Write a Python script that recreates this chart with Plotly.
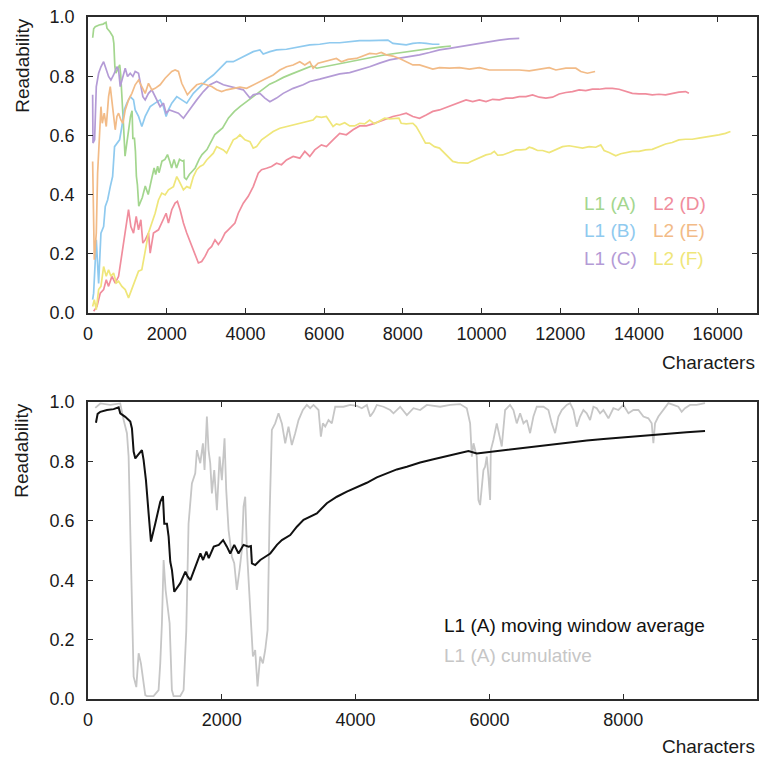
import plotly.graph_objects as go
from plotly.subplots import make_subplots

# ---------------- data (characters, readability) ----------------
l1a = [(119,0.93),(144,0.96),(184,0.967),(283,0.973),(383,0.976),(458,0.982),(482,0.962),(557,0.95),(632,0.934),(657,0.911),(682,0.833),(707,0.81),(742,0.82),(771,0.827),(806,0.838),(831,0.805),(866,0.737),(906,0.625),(941,0.53),(1005,0.59),(1080,0.664),(1120,0.683),(1140,0.59),(1180,0.59),(1205,0.547),(1230,0.462),(1255,0.434),(1290,0.361),(1330,0.373),(1380,0.39),(1455,0.429),(1490,0.412),(1530,0.40),(1605,0.446),(1680,0.49),(1720,0.468),(1770,0.496),(1805,0.474),(1880,0.513),(1955,0.519),(2020,0.535),(2076,0.513),(2126,0.49),(2186,0.519),(2250,0.49),(2325,0.519),(2400,0.513),(2435,0.515),(2450,0.457),(2500,0.451),(2575,0.468),(2650,0.479),(2724,0.49),(2824,0.519),(2898,0.535),(3023,0.552),(3122,0.58),(3222,0.603),(3322,0.614),(3421,0.625),(3570,0.659),(3720,0.681),(3869,0.698),(4018,0.713),(4168,0.728),(4317,0.746),(4467,0.76),(4616,0.773),(4766,0.782),(4965,0.796),(5164,0.807),(5363,0.818),(5563,0.829),(5687,0.835),(5812,0.827),(5961,0.831),(6160,0.835),(6360,0.841),(6559,0.847),(6758,0.852),(6957,0.857),(7207,0.863),(7456,0.87),(7705,0.875),(7954,0.88),(8203,0.883),(8452,0.889),(8701,0.894),(8948,0.898),(9223,0.902)]

l1b = [(118,0.045),(143,0.067),(211,0.247),(270,0.10),(329,0.27),(397,0.292),(439,0.36),(498,0.382),(566,0.427),(625,0.461),(675,0.562),(735,0.574),(802,0.585),(861,0.63),(920,0.686),(988,0.709),(1073,0.731),(1157,0.72),(1199,0.686),(1284,0.664),(1368,0.63),(1453,0.664),(1580,0.697),(1706,0.709),(1833,0.72),(1918,0.697),(1985,0.664),(2044,0.686),(2129,0.709),(2256,0.731),(2382,0.72),(2509,0.709),(2678,0.742),(2847,0.765),(3016,0.787),(3185,0.804),(3354,0.827),(3523,0.849),(3692,0.849),(3861,0.86),(4030,0.872),(4199,0.883),(4368,0.889),(4453,0.875),(4622,0.883),(4791,0.889),(5044,0.891),(5298,0.898),(5636,0.906),(5889,0.908),(6143,0.913),(6396,0.913),(6650,0.917),(6903,0.92),(7157,0.92),(7410,0.92),(7621,0.922),(7748,0.911),(7917,0.908),(8086,0.906),(8255,0.911),(8424,0.913),(8593,0.911),(8762,0.908),(8931,0.908)]

l1c = [(118,0.737),(126,0.574),(168,0.585),(211,0.765),(270,0.81),(329,0.832),(397,0.849),(464,0.821),(523,0.799),(582,0.787),(650,0.804),(735,0.832),(777,0.821),(819,0.765),(887,0.799),(946,0.827),(1005,0.799),(1073,0.81),(1140,0.799),(1199,0.816),(1284,0.81),(1326,0.782),(1394,0.731),(1453,0.72),(1537,0.742),(1622,0.754),(1706,0.731),(1833,0.697),(1918,0.709),(1985,0.675),(2070,0.686),(2171,0.681),(2298,0.675),(2425,0.658),(2509,0.675),(2636,0.697),(2763,0.72),(2932,0.748),(3101,0.771),(3270,0.782),(3439,0.771),(3608,0.765),(3777,0.759),(3946,0.754),(4115,0.726),(4199,0.737),(4368,0.742),(4495,0.726),(4622,0.714),(4791,0.726),(4960,0.742),(5213,0.759),(5467,0.771),(5636,0.782),(5889,0.79),(6143,0.799),(6396,0.808),(6650,0.812),(6903,0.821),(7157,0.832),(7410,0.844),(7664,0.855),(7917,0.861),(8171,0.866),(8424,0.872),(8678,0.88),(8931,0.889),(9185,0.894),(9438,0.9),(9692,0.906),(9945,0.911),(10199,0.917),(10452,0.922),(10706,0.926),(10959,0.928)]

l2d = [(143,0.006),(228,0.022),(312,0.067),(397,0.079),(464,0.112),(523,0.09),(608,0.124),(692,0.101),(777,0.124),(861,0.202),(946,0.27),(1030,0.349),(1089,0.292),(1157,0.27),(1225,0.326),(1284,0.281),(1343,0.315),(1394,0.236),(1453,0.247),(1537,0.27),(1580,0.202),(1664,0.27),(1791,0.281),(1901,0.315),(1985,0.337),(2044,0.304),(2129,0.349),(2213,0.371),(2272,0.377),(2340,0.349),(2425,0.304),(2509,0.27),(2636,0.225),(2720,0.202),(2805,0.169),(2889,0.174),(2974,0.191),(3058,0.214),(3143,0.225),(3227,0.247),(3312,0.231),(3396,0.247),(3481,0.27),(3565,0.281),(3650,0.292),(3734,0.304),(3819,0.337),(3946,0.371),(4072,0.394),(4199,0.427),(4326,0.472),(4410,0.484),(4537,0.489),(4664,0.495),(4791,0.506),(4917,0.501),(5044,0.517),(5213,0.529),(5382,0.523),(5509,0.546),(5636,0.529),(5762,0.551),(5931,0.568),(6058,0.562),(6227,0.585),(6396,0.607),(6565,0.602),(6734,0.619),(6903,0.632),(7072,0.632),(7241,0.639),(7410,0.647),(7579,0.655),(7748,0.664),(7917,0.669),(8086,0.675),(8255,0.664),(8424,0.658),(8593,0.669),(8762,0.681),(8931,0.686),(9100,0.695),(9269,0.703),(9438,0.711),(9607,0.72),(9776,0.714),(9945,0.72),(10114,0.714),(10283,0.722),(10452,0.72),(10621,0.726),(10790,0.726),(10959,0.731),(11128,0.731),(11297,0.737),(11466,0.729),(11635,0.726),(11804,0.729),(11973,0.74),(12142,0.745),(12311,0.748),(12480,0.754),(12649,0.751),(12818,0.756),(12987,0.756),(13156,0.759),(13325,0.759),(13494,0.756),(13663,0.748),(13832,0.742),(14001,0.74),(14170,0.74),(14339,0.737),(14508,0.739),(14677,0.737),(14846,0.742),(15015,0.746),(15184,0.748),(15269,0.742)]

l2e = [(118,0.512),(160,0.18),(211,0.27),(244,0.472),(295,0.607),(329,0.697),(363,0.641),(413,0.675),(464,0.63),(523,0.731),(566,0.765),(608,0.72),(650,0.664),(692,0.619),(735,0.664),(777,0.675),(836,0.652),(887,0.641),(946,0.686),(1030,0.72),(1115,0.742),(1199,0.771),(1284,0.787),(1368,0.765),(1453,0.742),(1537,0.776),(1622,0.754),(1706,0.759),(1833,0.771),(1960,0.793),(2044,0.804),(2129,0.816),(2213,0.821),(2298,0.816),(2382,0.776),(2467,0.754),(2526,0.737),(2636,0.754),(2763,0.771),(2889,0.776),(3016,0.771),(3143,0.765),(3270,0.754),(3396,0.748),(3523,0.754),(3692,0.759),(3861,0.763),(4030,0.759),(4199,0.771),(4368,0.782),(4537,0.793),(4706,0.804),(4875,0.821),(5044,0.832),(5213,0.838),(5382,0.849),(5509,0.838),(5636,0.849),(5720,0.827),(5847,0.844),(6016,0.849),(6143,0.855),(6312,0.86),(6438,0.849),(6607,0.857),(6819,0.86),(6988,0.868),(7157,0.877),(7326,0.875),(7452,0.88),(7579,0.872),(7748,0.868),(7917,0.86),(8086,0.849),(8255,0.838),(8424,0.838),(8593,0.832),(8762,0.824),(8931,0.829),(9185,0.827),(9438,0.829),(9692,0.824),(9945,0.829),(10199,0.821),(10452,0.821),(10706,0.821),(10959,0.821),(11213,0.818),(11466,0.823),(11720,0.829),(11889,0.821),(12142,0.827),(12396,0.827),(12522,0.816),(12691,0.81),(12886,0.816)]

l2f = [(118,0.022),(160,0.045),(211,0.011),(270,0.079),(329,0.09),(397,0.157),(464,0.124),(523,0.146),(582,0.124),(650,0.135),(718,0.101),(777,0.107),(861,0.09),(946,0.079),(1030,0.051),(1115,0.079),(1199,0.112),(1284,0.141),(1368,0.146),(1453,0.214),(1537,0.27),(1622,0.304),(1706,0.337),(1791,0.382),(1875,0.405),(1960,0.399),(2044,0.416),(2171,0.427),(2256,0.461),(2323,0.444),(2425,0.416),(2509,0.427),(2594,0.422),(2678,0.461),(2763,0.484),(2847,0.495),(2932,0.501),(3016,0.517),(3101,0.529),(3185,0.54),(3270,0.562),(3354,0.557),(3439,0.551),(3523,0.54),(3608,0.562),(3692,0.585),(3777,0.591),(3861,0.602),(3988,0.585),(4115,0.579),(4199,0.557),(4284,0.562),(4410,0.585),(4537,0.596),(4706,0.613),(4875,0.624),(5044,0.63),(5213,0.636),(5382,0.641),(5551,0.647),(5720,0.652),(5805,0.664),(5931,0.661),(6058,0.664),(6143,0.647),(6227,0.63),(6312,0.639),(6396,0.636),(6523,0.643),(6650,0.632),(6776,0.632),(6903,0.641),(7030,0.639),(7157,0.652),(7283,0.639),(7410,0.65),(7537,0.658),(7664,0.656),(7790,0.658),(7900,0.658),(7959,0.641),(8086,0.639),(8255,0.641),(8340,0.63),(8441,0.607),(8525,0.585),(8576,0.574),(8678,0.574),(8804,0.562),(8931,0.557),(9058,0.54),(9142,0.529),(9269,0.512),(9396,0.508),(9523,0.508),(9649,0.506),(9734,0.512),(9861,0.52),(9987,0.526),(10114,0.534),(10241,0.538),(10325,0.546),(10410,0.533),(10537,0.534),(10706,0.542),(10875,0.551),(11001,0.551),(11128,0.553),(11213,0.56),(11297,0.557),(11424,0.549),(11551,0.549),(11720,0.542),(11889,0.553),(12058,0.562),(12227,0.565),(12396,0.56),(12565,0.557),(12734,0.562),(12903,0.56),(13029,0.568),(13114,0.549),(13241,0.542),(13410,0.531),(13536,0.538),(13663,0.542),(13832,0.546),(14001,0.546),(14170,0.551),(14339,0.553),(14508,0.562),(14677,0.571),(14846,0.576),(15015,0.585),(15184,0.587),(15353,0.587),(15522,0.591),(15691,0.594),(15860,0.598),(16029,0.602),(16198,0.607),(16325,0.613)]

l1a_window = [(109,0.98),(184,0.995),(333,0.99),(482,0.995),(532,0.94),(582,0.895),(607,0.816),(632,0.57),(657,0.255),(682,0.075),(722,0.04),(757,0.154),(791,0.12),(821,0.075),(856,0.013),(881,0.01),(980,0.01),(1055,0.03),(1080,0.12),(1105,0.255),(1130,0.468),(1160,0.367),(1190,0.31),(1220,0.255),(1254,0.03),(1279,0.01),(1379,0.01),(1429,0.03),(1469,0.23),(1503,0.59),(1553,0.726),(1603,0.76),(1628,0.838),(1678,0.794),(1718,0.861),(1742,0.771),(1777,0.951),(1802,0.838),(1827,0.794),(1852,0.692),(1887,0.771),(1927,0.636),(1967,0.816),(2001,0.737),(2041,0.878),(2066,0.704),(2101,0.569),(2151,0.479),(2186,0.457),(2225,0.367),(2265,0.434),(2300,0.502),(2325,0.648),(2350,0.681),(2375,0.502),(2400,0.389),(2435,0.232),(2465,0.143),(2499,0.165),(2534,0.042),(2574,0.143),(2614,0.12),(2649,0.165),(2684,0.232),(2714,0.614),(2733,0.782),(2748,0.906),(2798,0.928),(2848,0.962),(2898,0.928),(2948,0.861),(2997,0.917),(3047,0.855),(3097,0.895),(3147,0.939),(3212,0.973),(3271,0.99),(3321,0.979),(3371,0.99),(3446,0.973),(3481,0.883),(3511,0.928),(3546,0.917),(3595,0.939),(3645,0.928),(3695,0.984),(3819,0.984),(3919,0.99),(4019,0.987),(4093,0.979),(4168,0.99),(4218,0.951),(4268,0.967),(4317,0.99),(4417,0.984),(4517,0.973),(4566,0.962),(4666,0.984),(4766,0.956),(4865,0.979),(4965,0.973),(5064,0.99),(5264,0.984),(5413,0.99),(5562,0.993),(5662,0.979),(5712,0.928),(5737,0.816),(5762,0.861),(5811,0.816),(5836,0.67),(5861,0.653),(5886,0.704),(5911,0.771),(5936,0.782),(5961,0.816),(5986,0.749),(6011,0.67),(6021,0.838),(6060,0.872),(6110,0.928),(6160,0.883),(6185,0.85),(6235,0.973),(6309,0.99),(6359,0.973),(6409,0.928),(6459,0.962),(6509,0.928),(6559,0.939),(6608,0.895),(6658,0.951),(6708,0.984),(6808,0.984),(6882,0.973),(6932,0.928),(6982,0.895),(7032,0.951),(7082,0.973),(7156,0.99),(7206,0.996),(7256,0.973),(7306,0.917),(7355,0.951),(7405,0.973),(7455,0.962),(7505,0.939),(7555,0.984),(7604,0.979),(7654,0.962),(7704,0.973),(7779,0.945),(7853,0.979),(7928,0.973),(8003,0.99),(8078,0.962),(8152,0.973),(8227,0.973),(8302,0.951),(8376,0.945),(8426,0.928),(8451,0.861),(8476,0.928),(8526,0.951),(8600,0.973),(8675,0.996),(8750,0.99),(8824,0.984),(8874,0.967),(8924,0.979),(8999,0.99),(9098,0.99),(9223,0.996)]

top_names = ["L1 (A)", "L1 (B)", "L1 (C)", "L2 (D)", "L2 (E)", "L2 (F)"]
top_series = [l1a, l1b, l1c, l2d, l2e, l2f]
top_colors = ["#a3d68e", "#8fcaef", "#b49bd6", "#f08d9d", "#f2bb87", "#efe67a"]

bottom_names = ["L1 (A) moving window average", "L1 (A) cumulative"]
bottom_colors = ["#111111", "#c6c6c6"]

top_x_ticks = [0, 2000, 4000, 6000, 8000, 10000, 12000, 14000, 16000]
bottom_x_ticks = [0, 2000, 4000, 6000, 8000]
y_ticks = [0.0, 0.2, 0.4, 0.6, 0.8, 1.0]

FONT = "Liberation Sans, Arial, Helvetica, sans-serif"

fig = make_subplots(rows=2, cols=1, vertical_spacing=0.1305)

def xs(s): return [p[0] for p in s]
def ys(s): return [p[1] for p in s]

for name, s, c in zip(top_names, top_series, top_colors):
    fig.add_trace(go.Scatter(x=xs(s), y=ys(s), mode="lines", name=name,
                             line=dict(color=c, width=1.7), showlegend=False), row=1, col=1)

fig.add_trace(go.Scatter(x=xs(l1a_window), y=ys(l1a_window), mode="lines", name=bottom_names[1],
                         line=dict(color=bottom_colors[1], width=1.8), showlegend=False), row=2, col=1)
fig.add_trace(go.Scatter(x=xs(l1a), y=ys(l1a), mode="lines", name=bottom_names[0],
                         line=dict(color=bottom_colors[0], width=2), showlegend=False), row=2, col=1)

axis_common = dict(showline=True, linecolor="#2b2b2b", linewidth=1.6, mirror="ticks",
                   ticks="inside", ticklen=5, tickwidth=1.2, tickcolor="#2b2b2b",
                   showgrid=False, zeroline=False, automargin=False,
                   ticklabeloverflow="allow",
                   tickfont=dict(family=FONT, size=18, color="#1a1a1a"))

fig.update_xaxes(**axis_common, tickformat="d", ticklabelstandoff=4)
fig.update_yaxes(**axis_common, range=[0, 1], tickvals=y_ticks, tickformat=".1f",
                 ticklabelstandoff=8)
fig.update_xaxes(range=[0, 17000], tickvals=top_x_ticks, row=1, col=1)
fig.update_xaxes(range=[0, 10000], tickvals=bottom_x_ticks, row=2, col=1)
fig.update_layout(yaxis=dict(domain=[0.566, 1.0]), yaxis2=dict(domain=[0.0, 0.4355]))

ann = []
# axis titles
for ytop in (1.0, 0.4355):
    ann.append(dict(text="Readability", xref="paper", yref="paper", x=-0.099, y=ytop,
                    xanchor="center", yanchor="top", textangle=-90, showarrow=False,
                    font=dict(family=FONT, size=19, color="#1a1a1a")))
for ypos in (0.494, -0.069):
    ann.append(dict(text="Characters", xref="paper", yref="paper", x=1.0, y=ypos,
                    xanchor="right", yanchor="middle", showarrow=False,
                    font=dict(family=FONT, size=19, color="#1a1a1a")))
# top legend (two columns of coloured text)
leg_x = [0.739, 0.842]
leg_y = [0.727, 0.687, 0.646]
for i, (name, c) in enumerate(zip(top_names, top_colors)):
    ann.append(dict(text=name, xref="paper", yref="paper", x=leg_x[i // 3], y=leg_y[i % 3],
                    xanchor="left", yanchor="middle", showarrow=False,
                    font=dict(family=FONT, size=19, color=c)))
# bottom legend
for i, (name, c) in enumerate(zip(bottom_names, bottom_colors)):
    ann.append(dict(text=name, xref="paper", yref="paper", x=0.529, y=[0.108, 0.064][i],
                    xanchor="left", yanchor="middle", showarrow=False,
                    font=dict(family=FONT, size=19, color=c)))

fig.update_layout(width=759, height=758, margin=dict(l=88, r=2, t=17, b=59),
                  plot_bgcolor="white", paper_bgcolor="white", annotations=ann,
                  showlegend=False, hovermode=False)

# remove the page's default body margin so the figure fills the window exactly
fig.write_html("out.html", config={"displayModeBar": False},
               post_script="document.body.style.margin='0px';document.body.style.overflow='hidden';")
